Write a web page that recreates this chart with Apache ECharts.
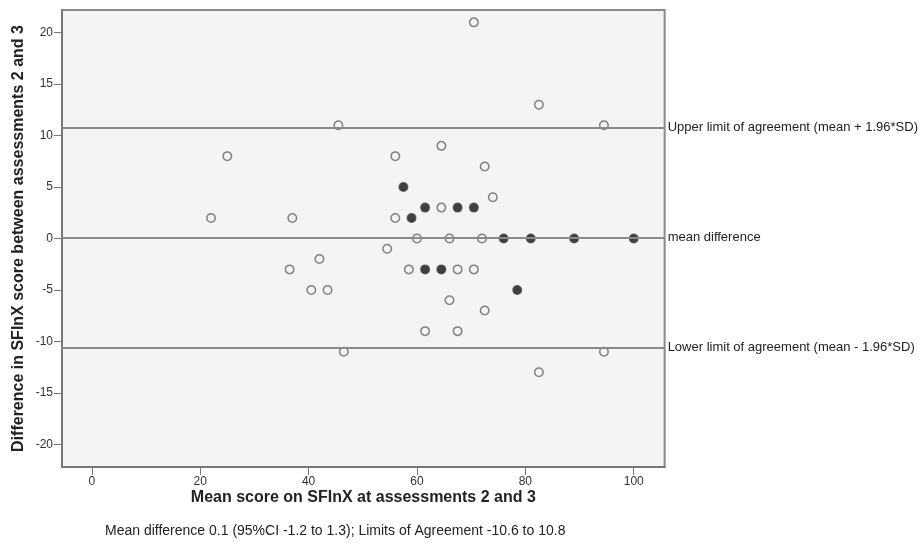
<!DOCTYPE html>
<html>
<head>
<meta charset="utf-8">
<script src="https://cdn.jsdelivr.net/npm/echarts@6/dist/echarts.min.js"></script>
<style>
html,body{margin:0;padding:0;background:#fff;}
#chart{width:921px;height:551px;}
</style>
</head>
<body>
<div id="chart"></div>
<script>
// Open circles (mean score, difference)
var openX = [70.5, 82.5, 94.5, 45.5, 25, 56, 64.5, 72.5, 74, 64.5, 56, 22, 37, 60, 66, 72, 54.5, 42, 36.5, 58.5, 67.5, 70.5, 40.5, 43.5, 66, 72.5, 61.5, 67.5, 46.5, 94.5, 82.5];
var openY = [21, 13, 11, 11, 8, 8, 9, 7, 4, 3, 2, 2, 2, 0, 0, 0, -1, -2, -3, -3, -3, -3, -5, -5, -6, -7, -9, -9, -11, -11, -13];
// Filled circles
var filledX = [57.5, 61.5, 67.5, 70.5, 59, 76, 81, 89, 100, 61.5, 64.5, 78.5];
var filledY = [5, 3, 3, 3, 2, 0, 0, 0, 0, -3, -3, -5];
// Reference lines
var limitValues = [10.8, 0.1, -10.6];
var limitLabels = ['Upper limit of agreement (mean + 1.96*SD)', 'mean difference', 'Lower limit of agreement (mean - 1.96*SD)'];
// Ticks
var xTicks = [0, 20, 40, 60, 80, 100];
var yTicks = [-20, -15, -10, -5, 0, 5, 10, 15, 20];
var xTitle = 'Mean score on SFInX at assessments 2 and 3';
var yTitle = 'Difference in SFInX score between assessments 2 and 3';
var footnote = 'Mean difference 0.1 (95%CI -1.2 to 1.3); Limits of Agreement -10.6 to 10.8';

function zip(a, b) { return a.map(function (v, i) { return [v, b[i]]; }); }

var FONT = '"Liberation Sans", Arial, Helvetica, sans-serif';
var chart = echarts.init(document.getElementById('chart'), null, {renderer: 'canvas'});
chart.setOption({
  animation: false,
  backgroundColor: '#ffffff',
  textStyle: {fontFamily: FONT},
  title: {
    text: footnote,
    left: 100,
    top: 519,
    textStyle: {fontSize: 14, fontWeight: 'normal', color: '#222', fontFamily: FONT}
  },
  grid: {
    left: 62, right: 255, top: 10, bottom: 84,
    show: true,
    backgroundColor: '#f4f4f4',
    borderColor: '#8a8a8a',
    borderWidth: 2
  },
  xAxis: {
    type: 'value',
    min: -5.5, max: 105.7,
    name: xTitle,
    nameLocation: 'middle',
    nameGap: 23,
    nameMoveOverlap: false,
    nameTextStyle: {fontSize: 16, fontWeight: 'bold', color: '#222', fontFamily: FONT},
    axisLine: {show: true, onZero: false, lineStyle: {color: '#777', width: 2}},
    axisTick: {show: true, length: 8, customValues: xTicks, lineStyle: {color: '#777', width: 1}},
    axisLabel: {customValues: xTicks, fontSize: 12, color: '#333', margin: 9, fontFamily: FONT},
    splitLine: {show: false}
  },
  yAxis: [{
    type: 'value',
    min: -22.2, max: 22.2,
    name: yTitle,
    nameLocation: 'middle',
    nameRotate: 90,
    nameGap: 35,
    nameMoveOverlap: false,
    nameTextStyle: {fontSize: 16, fontWeight: 'bold', color: '#222', fontFamily: FONT},
    axisLine: {show: true, onZero: false, lineStyle: {color: '#777', width: 2}},
    axisTick: {show: true, length: 8, customValues: yTicks, lineStyle: {color: '#777', width: 1}},
    axisLabel: {customValues: yTicks, fontSize: 12, color: '#333', margin: 9, fontFamily: FONT},
    splitLine: {show: false}
  }, {
    type: 'value',
    position: 'right',
    min: -22.2, max: 22.2,
    axisLine: {show: false},
    axisTick: {show: true, length: 4, customValues: limitValues, lineStyle: {color: '#777', width: 1}},
    axisLabel: {
      customValues: limitValues,
      fontSize: 13, color: '#222', margin: 3, fontFamily: FONT,
      formatter: function (v) {
        var best = 0, d = Infinity;
        for (var i = 0; i < limitValues.length; i++) {
          var dd = Math.abs(limitValues[i] - v);
          if (dd < d) { d = dd; best = i; }
        }
        return limitLabels[best];
      }
    },
    splitLine: {show: false}
  }],
  series: [
    {
      type: 'scatter',
      data: [],
      silent: true,
      markLine: {
        silent: true,
        symbol: 'none',
        label: {show: false},
        lineStyle: {color: '#8a8a8a', width: 2, type: 'solid'},
        data: limitValues.map(function (v) { return {yAxis: v}; })
      }
    },
    {
      type: 'scatter',
      data: zip(openX, openY),
      symbol: 'circle',
      symbolSize: 8.5,
      itemStyle: {color: '#f4f4f4', borderColor: '#666', borderWidth: 1.5},
      z: 3
    },
    {
      type: 'scatter',
      data: zip(filledX, filledY),
      symbol: 'circle',
      symbolSize: 8.5,
      itemStyle: {color: '#111', borderColor: '#444', borderWidth: 1.5},
      z: 4
    }
  ]
});
</script>
</body>
</html>
